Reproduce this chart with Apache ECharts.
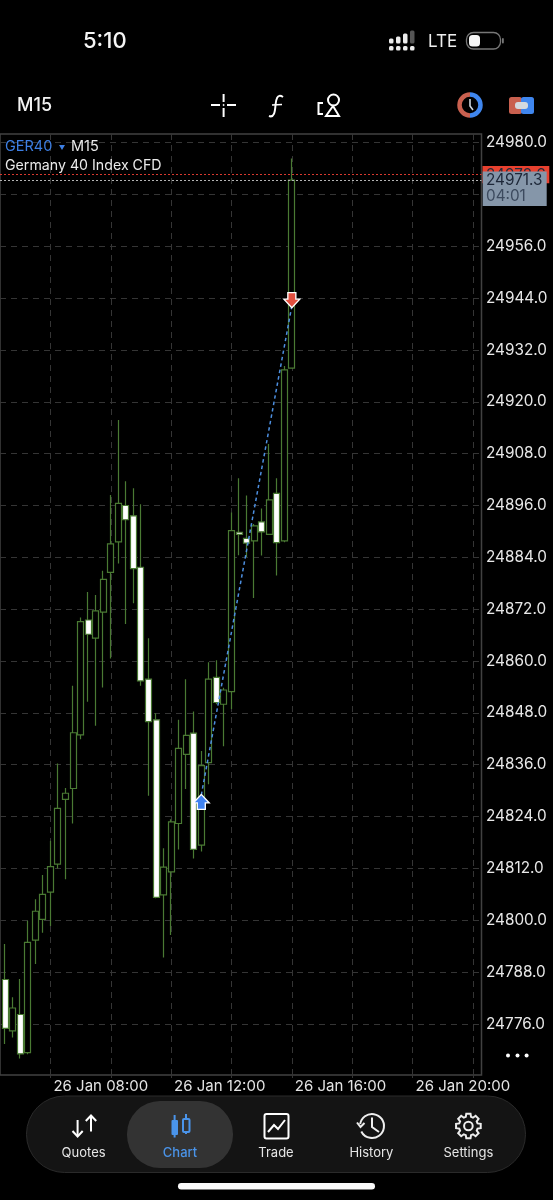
<!DOCTYPE html>
<html><head><meta charset="utf-8">
<style>html,body{margin:0;padding:0;background:#000}#c{width:553px;height:1200px}</style>
<script src="https://cdn.jsdelivr.net/npm/echarts@6/dist/echarts.min.js"></script>
</head><body><div id="c"></div>
<script>
// Hours of the day (26 Jan) for each M15 candle
const hours = [6.5,6.75,7,7.25,7.5,7.75,8,8.25,8.5,8.75,9,9.25,9.5,9.75,10,10.25,10.5,10.75,11,11.25,11.5,11.75,12,12.25,12.5,12.75,13,13.25,13.5,13.75,14,14.25,14.5,14.75,15,15.25,15.5,15.75,16];
const opens = [24786.3,24774.4,24778.2,24769.4,24795.4,24800.2,24806.5,24813.0,24828.0,24830.5,24842.9,24869.5,24865.3,24871.3,24880.5,24887.6,24896.0,24893.6,24881.7,24855.8,24846.4,24805.9,24811.2,24822.4,24838.4,24843.3,24817.4,24836.5,24856.2,24850.0,24852.9,24889.8,24888.4,24887.8,24892.2,24889.3,24898.8,24887.8,24927.8];
const closes = [24775.0,24779.7,24769.1,24794.9,24802.1,24806.0,24812.4,24825.9,24829.4,24843.4,24869.1,24866.2,24871.6,24878.9,24887.1,24896.5,24892.7,24881.4,24855.4,24846.0,24805.3,24812.3,24822.8,24839.8,24842.8,24816.4,24835.8,24855.8,24850.4,24853.3,24890.2,24889.3,24887.3,24891.3,24889.9,24897.3,24887.4,24927.4,24971.3];
const lows = [24771.4,24772.9,24768.0,24769.0,24789.9,24797.1,24798.7,24812.0,24809.5,24822.4,24841.9,24850.6,24845.0,24853.9,24860.6,24882.6,24868.6,24873.4,24854.3,24828.8,24805.1,24791.4,24796.6,24816.4,24830.4,24814.3,24815.9,24831.5,24850.0,24840.3,24848.9,24884.5,24884.1,24874.6,24884.4,24889.2,24879.8,24887.5,24927.7];
const highs = [24794.5,24782.2,24786.4,24799.9,24804.9,24810.5,24818.4,24836.3,24830.6,24854.3,24870.1,24876.0,24875.3,24880.9,24898.4,24915.8,24901.6,24900.0,24896.3,24865.3,24847.9,24816.7,24823.4,24846.4,24855.8,24848.3,24839.2,24859.7,24860.2,24853.8,24894.4,24902.3,24898.3,24891.7,24895.3,24910.2,24902.3,24928.3,24976.3];
const yTicks = [24776,24788,24800,24812,24824,24836,24848,24860,24872,24884,24896,24908,24920,24932,24944,24956,24980];
const yGrid = [24776,24788,24800,24812,24824,24836,24848,24860,24872,24884,24896,24908,24920,24932,24944,24956,24968,24980];
const xGrid = [8,10,12,14,16,18,20,22];
const xLabels = [8,12,16,20];
const tradeLine = [[13,24829],[16,24942.2]];
const buyMark = [[13,24827.4]];
const sellMark = [[16,24943.5]];
const bid = 24971.3, ask = 24972.6;
const tabs = ['Quotes','Chart','Trade','History','Settings'];

const FONT = 'Inter';
const GREEN = '#4a7a33', GRID = '#353535';
const pad = h => String(h).padStart(2,'0') + ':00';
const upArrow = 'path://M8 0 L16 8 L12 8 L12 14 L4 14 L4 8 L0 8 Z';
const downArrow = 'path://M4 0 L12 0 L12 6 L16 6 L8 14 L0 6 L4 6 Z';

// ---- decoration helpers (screen furniture around the chart)
const W='#fff';
const T=(text,x,y,fs,fill,extra)=>({type:'text',z:50,x,y,style:Object.assign({text,fill,font:`${(extra&&extra.weight)||400} ${fs}px ${(extra&&extra.family)||FONT}`,verticalAlign:'middle',align:(extra&&extra.align)||'left'})});
const L=(x1,y1,x2,y2,c,w)=>({type:'line',z:50,shape:{x1,y1,x2,y2},style:{stroke:c||W,lineWidth:w||2}});
const R=(x,y,w,h,f,r,extra)=>({type:'rect',z:(extra&&extra.z)||50,shape:{x,y,width:w,height:h,r:r||0},style:{fill:f,stroke:(extra&&extra.stroke)||null,lineWidth:(extra&&extra.lw)||0}});
const C=(cx,cy,r,stroke,lw,fill)=>({type:'circle',z:50,shape:{cx,cy,r},style:{fill:fill||'none',stroke,lineWidth:lw}});
const PL=(points,c,w)=>({type:'polyline',z:50,shape:{points},style:{stroke:c||W,lineWidth:w||2,fill:'none'}});
const PG=(points,f,s,w)=>({type:'polygon',z:50,shape:{points},style:{fill:f||'none',stroke:s||null,lineWidth:w||0}});
const A=(cx,cy,r,a0,a1,c,w)=>({type:'arc',z:50,shape:{cx,cy,r,startAngle:a0,endAngle:a1,clockwise:true},style:{stroke:c,lineWidth:w,fill:'none'}});

const g = [];
// status bar
g.push(T('5:10',83,41,22,'#f5f5f5',{weight:500}));
[391,398,405,412].forEach((x,i)=>{g.push(R(x-2,46,4.5,4.5,'#ececec',1.5));
  const h=[5,7,10,13][i]; g.push(R(x-2,43.5-h,4.5,h,i==3?'#555':'#ececec',1.5));});
g.push(T('LTE',428,42,17,'#eee'));
g.push(R(466.5,32.5,34,16.5,'none',7,{stroke:'#777',lw:1.3}));
g.push(R(469,35,11,11.5,'#f5f5f5',3.5));
g.push(R(502,38,1.8,5.5,'#777',1));
// toolbar
g.push(T('M15',17,105.5,18,'#f2f2f2',{weight:500}));
g.push(L(211,105,220,105),L(227,105,236,105),L(223.6,94,223.6,102),L(223.6,108,223.6,117),C(223.6,105,.6,W,1,W));
g.push({type:'bezierCurve',z:50,shape:{x1:283,y1:97,cpx1:277,cpy1:93,cpx2:276,cpy2:100,x2:275.5,y2:105},style:{stroke:W,lineWidth:2,fill:'none'}});
g.push({type:'bezierCurve',z:50,shape:{x1:275.5,y1:105,cpx1:275,cpy1:112,cpx2:274,cpy2:118,x2:269,y2:116},style:{stroke:W,lineWidth:2,fill:'none'}});
g.push(L(272,105,282,104.5,W,1.6));
g.push(C(333.5,100,5.5,W,2),PG([[333,106],[339,116],[326,116]],'none',W,2),PL([[323,103],[318.5,103],[318.5,114],[323,114]],W,2));
g.push(A(470,105,10.5,Math.PI*0.5,Math.PI*1.5,'#c9604f',4.5),A(470,105,10.5,-Math.PI*0.5,Math.PI*0.5,'#3f86ee',4.5));
g.push(PL([[470,99],[470,106],[473,110]],'#cfd6dd',1.6));
g.push(R(509,97,13,17,'#c9604f',2.5),R(521,97,13,17,'#3f86ee',2.5),R(515,102,13,7,'#d3d9df',3));
// instrument header
g.push(T('GER40',5,147,14.5,'#3d7fe4'));
g.push(PG([[59,145],[65,145],[62,150]],'#3d7fe4'));
g.push(T('M15',71,147,14.5,'#eaeaea'));
g.push(T('Germany 40 Index CFD',5,165.5,14.2,'#eaeaea'));
// price tags
g.push(R(482.5,166,66.8,17.3,'#e8412f',0,{z:60}));
g.push(Object.assign(T(String(ask),486,175,15.3,'#1f2a3c'),{z:61}));
g.push(R(482.7,171.5,64,34.5,'#8596a9',0,{z:62}));
g.push(Object.assign(T(String(bid),486,180.5,15.3,'#1d2738'),{z:63}));
g.push(Object.assign(T('04:01',486,196.5,15.3,'#3c4a5e'),{z:63}));
// overflow dots
[508,517.5,526.6].forEach(x=>g.push(C(x,1055.5,2,W,0,W)));
// tab bar
g.push(R(26.5,1096,499,76.5,'#141414',38,{stroke:'#2a2a2a',lw:1,z:40}));
g.push(R(127,1101,106,67,'#333333',33,{z:41}));
const tabX=[83.6,180,276,371.4,468.4];
tabs.forEach((t,i)=>g.push(T(t,tabX[i],1152.7,13,i==1?'#4a94ea':'#e6e6e6',{align:'center',weight:i==1?500:400})));
// Quotes icon
g.push(L(77.6,1120,77.6,1136),PL([[72.5,1131],[77.6,1136.5],[82.7,1131]]),L(91,1116,91,1131.5),PL([[85.8,1121],[91,1115.5],[96.2,1121]]));
// Chart icon
const B='#4a94ea';
g.push(L(174.6,1115,174.6,1137.5,B,2),R(171.5,1120,6.5,15,B,1),L(186,1114,186,1134,B,2),R(183,1119,6.5,13,'#333',1,{stroke:B,lw:2}));
// Trade icon
g.push(R(264.5,1114,24,24.5,'none',2,{stroke:W,lw:2}),PL([[268,1132],[274,1125],[278,1129],[285,1120]],W,2));
// History icon
g.push(A(372,1126,12,-Math.PI*0.95,Math.PI*0.85,'#eee',2),PL([[372,1117.5],[372,1127],[379,1132]],'#eee',2),PL([[357,1122.5],[360.5,1127],[364.5,1123]],'#eee',2));
// Settings icon
(function(){const pts=[],cx=468.4,cy=1126;for(let i=0;i<8;i++){const a=i*Math.PI/4-Math.PI/2;
 [[-.28,9.5],[-.17,12.5],[.17,12.5],[.28,9.5]].forEach(([d,r])=>pts.push([cx+r*Math.cos(a+d),cy+r*Math.sin(a+d)]));}
 g.push(PG(pts,'none','#eee',2),C(cx,cy,4.3,'#eee',2));})();
// home indicator
g.push(R(178,1183,197,6.5,'#fafafa',3.2));

const option = {
  backgroundColor:'#000', animation:false,
  grid:{left:0,top:134,right:71.5,bottom:125,show:true,borderColor:'#414141',borderWidth:1.5,backgroundColor:'transparent'},
  xAxis:{type:'value',min:6.33,max:22.284,
    axisLine:{show:false},
    axisTick:{show:true,length:3,customValues:xGrid,lineStyle:{color:GRID}},
    splitLine:{show:true,lineStyle:{color:GRID,type:[6,5],width:1}},
    axisLabel:{customValues:xLabels,color:'#e4e4e4',fontFamily:FONT,fontSize:15,margin:4,align:'left',verticalAlign:'top',padding:[0,0,0,3],
      formatter:v=>'26 Jan '+pad(v)}},
  yAxis:{type:'value',position:'right',min:24764.2,max:24981.97,
    axisLine:{show:false},
    axisTick:{show:false,customValues:yGrid},
    splitLine:{show:true,lineStyle:{color:GRID,type:[6,5],width:1}},
    axisLabel:{customValues:yTicks,color:'#e8e8e8',fontFamily:FONT,fontSize:15.3,margin:4.5,align:'left',
      formatter:v=>v.toFixed(1)}},
  series:[
    {type:'candlestick',barWidth:6.5,clip:true,z:3,silent:true,
     data:hours.map((h,i)=>[h,opens[i],closes[i],lows[i],highs[i]]),
     itemStyle:{color:'#000',color0:'#fff',borderColor:GREEN,borderColor0:GREEN,borderWidth:1.2},
     markLine:{silent:true,symbol:'none',label:{show:false},animation:false,
       data:[{yAxis:ask,lineStyle:{color:'#d8392f',type:[2,2],width:1}},
             {yAxis:bid,lineStyle:{color:'#b5b5b5',type:[2,2],width:1}}]}},
    {type:'line',data:tradeLine,showSymbol:false,symbol:'none',z:4,silent:true,
     lineStyle:{color:'#4d8fe0',type:[3.5,3],width:1.5}},
    {type:'scatter',data:buyMark,symbol:upArrow,symbolSize:[16,15],z:5,silent:true,
     itemStyle:{color:'#3f82f0',borderColor:'#fff',borderWidth:1.3,opacity:1}},
    {type:'scatter',data:sellMark,symbol:downArrow,symbolSize:[16,15],z:5,silent:true,
     itemStyle:{color:'#e2503f',borderColor:'#fff',borderWidth:1.3,opacity:1}}
  ],
  graphic:{elements:g}
};
echarts.init(document.getElementById('c'),null,{renderer:'canvas'}).setOption(option);
</script></body></html>
